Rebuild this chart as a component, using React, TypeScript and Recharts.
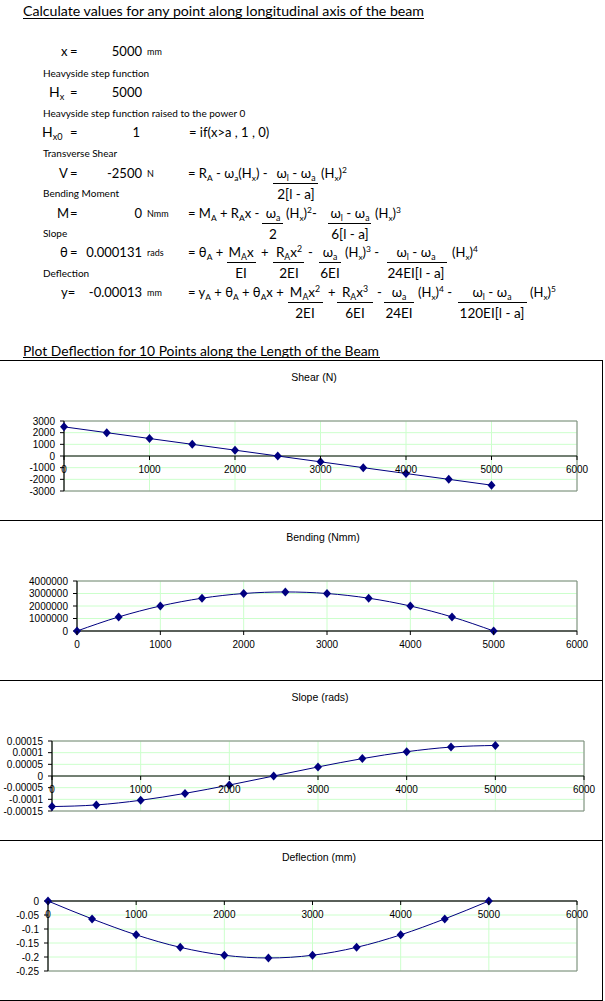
import React from "react"
import {
  LineChart,
  Line,
  XAxis,
  YAxis,
  CartesianGrid,
  ReferenceLine,
  ReferenceArea,
} from "recharts"

// positions along the beam (mm)
const positions = [0, 500, 1000, 1500, 2000, 2500, 3000, 3500, 4000, 4500, 5000]

// values
const shear = [2500, 2000, 1500, 1000, 500, 0, -500, -1000, -1500, -2000, -2500]
const bending = [0, 1125000, 2000000, 2625000, 3000000, 3125000, 3000000, 2625000, 2000000, 1125000, 0]
const slope = [-0.000131, -0.000124, -0.000104, -0.0000745, -0.0000388, 0, 0.0000388, 0.0000745, 0.000104, 0.000124, 0.000131]
const deflection = [0, -0.0639, -0.1209, -0.1655, -0.1938, -0.2035, -0.1938, -0.1655, -0.1209, -0.0639, 0]

// tick labels
const xTicks = [0, 1000, 2000, 3000, 4000, 5000, 6000]
const shearTicks = [-3000, -2000, -1000, 0, 1000, 2000, 3000]
const bendingTicks = [0, 1000000, 2000000, 3000000, 4000000]
const slopeTicks = [-0.00015, -0.0001, -0.00005, 0, 0.00005, 0.0001, 0.00015]
const deflectionTicks = [-0.25, -0.2, -0.15, -0.1, -0.05, 0]

const TEXT_FONT = "Lato, 'Open Sans', sans-serif"
const CHART_FONT = "'Liberation Sans', Arial, sans-serif"
const NAVY = "#000080"

type Part = string | [string, "sub" | "sup"]

// text with sub/superscripts, y is the vertical centre
function Rich({ x, y, parts, size = 13, anchor = "start" }: { x: number; y: number; parts: Part[]; size?: number; anchor?: string }) {
  let shift = 0
  return (
    <text x={x} y={y + size * 0.35} fontSize={size} textAnchor={anchor as any} style={{ whiteSpace: "pre" }} fill="#000">
      {parts.map((p, i) => {
        const [t, k] = typeof p === "string" ? [p, "n"] : p
        const target = k === "sub" ? 3 : k === "sup" ? -5 : 0
        const dy = target - shift
        shift = target
        return (
          <tspan key={i} dy={dy} fontSize={k === "n" ? size : size * 0.65}>
            {t}
          </tspan>
        )
      })}
    </text>
  )
}

function Frac({ cx, y, x1, x2, num, den }: { cx: number; y: number; x1: number; x2: number; num: Part[]; den: Part[] }) {
  return (
    <g>
      <Rich x={cx} y={y} parts={num} anchor="middle" size={13.5} />
      <line x1={x1} x2={x2} y1={y + 10.5} y2={y + 10.5} stroke="#000" strokeWidth={1} />
      <Rich x={cx} y={y + 21} parts={den} anchor="middle" size={13.5} />
    </g>
  )
}

function Label({ x, y, children, size = 10 }: { x: number; y: number; children: React.ReactNode; size?: number }) {
  return (
    <text x={x} y={y + size * 0.35} fontSize={size} fill="#000">
      {children}
    </text>
  )
}

const wl: Part[] = ["ω", ["l", "sub"], " - ω", ["a", "sub"]]
const wa: Part[] = ["ω", ["a", "sub"]]

function Worksheet() {
  return (
    <svg width={605} height={362} style={{ position: "absolute", left: 0, top: 0, fontFamily: TEXT_FONT }}>
      <text x={23} y={16} fontSize={14} textLength={401} lengthAdjust="spacingAndGlyphs">
        Calculate values for any point along longitudinal axis of the beam
      </text>
      <line x1={23} x2={424} y1={18.5} y2={18.5} stroke="#000" />

      <Rich x={61} y={51} parts={["x"]} />
      <Rich x={70} y={51} parts={["="]} />
      <Rich x={142} y={51} parts={["5000"]} anchor="end" />
      <Label x={147} y={52} size={9}>mm</Label>

      <Label x={43} y={73}>Heavyside step function</Label>
      <Rich x={49} y={92} parts={["H", ["x", "sub"]]} size={14} />
      <Rich x={70} y={92} parts={["="]} />
      <Rich x={142} y={92} parts={["5000"]} anchor="end" />

      <Label x={43} y={113}>Heavyside step function raised to the power 0</Label>
      <Rich x={42} y={132} parts={["H", ["x0", "sub"]]} size={14} />
      <Rich x={70} y={132} parts={["="]} />
      <Rich x={140} y={132} parts={["1"]} anchor="end" />
      <Rich x={189} y={132} parts={["= if(x>a , 1 , 0)"]} />

      <Label x={43} y={153}>Transverse Shear</Label>
      <Rich x={59} y={173} parts={["V"]} />
      <Rich x={70} y={173} parts={["="]} />
      <Rich x={142} y={173} parts={["-2500"]} anchor="end" />
      <Label x={147} y={174} size={9}>N</Label>
      <Rich x={188} y={173} parts={["= R", ["A", "sub"], " - ω", ["a", "sub"], "(H", ["x", "sub"], ") -"]} />
      <Frac cx={296} y={173} x1={273} x2={318} num={wl} den={["2[l - a]"]} />
      <Rich x={321} y={173} parts={["(H", ["x", "sub"], ")", ["2", "sup"]]} />

      <Label x={43} y={193}>Bending Moment</Label>
      <Rich x={57} y={213} parts={["M"]} />
      <Rich x={70} y={213} parts={["="]} />
      <Rich x={142} y={213} parts={["0"]} anchor="end" />
      <Label x={147} y={214} size={9}>Nmm</Label>
      <Rich x={188} y={213} parts={["= M", ["A", "sub"], " + R", ["A", "sub"], "x -"]} />
      <Frac cx={273} y={213} x1={262} x2={283} num={wa} den={["2"]} />
      <Rich x={286} y={213} parts={["(H", ["x", "sub"], ")", ["2", "sup"], "-"]} />
      <Frac cx={350} y={213} x1={328} x2={371} num={wl} den={["6[l - a]"]} />
      <Rich x={375} y={213} parts={["(H", ["x", "sub"], ")", ["3", "sup"]]} />

      <Label x={43} y={233}>Slope</Label>
      <Rich x={60} y={252} parts={["θ"]} />
      <Rich x={70} y={252} parts={["="]} />
      <Rich x={142} y={252} parts={["0.000131"]} anchor="end" />
      <Label x={147} y={253} size={9}>rads</Label>
      <Rich x={188} y={252} parts={["= θ", ["A", "sub"], " +"]} />
      <Frac cx={241} y={252} x1={227} x2={256} num={["M", ["A", "sub"], "x"]} den={["EI"]} />
      <Rich x={261} y={252} parts={["+"]} />
      <Frac cx={289} y={252} x1={273} x2={304} num={["R", ["A", "sub"], "x", ["2", "sup"]]} den={["2EI"]} />
      <Rich x={308} y={252} parts={["-"]} />
      <Frac cx={330} y={252} x1={319} x2={341} num={wa} den={["6EI"]} />
      <Rich x={345} y={252} parts={["(H", ["x", "sub"], ")", ["3", "sup"], " -"]} />
      <Frac cx={416} y={252} x1={387} x2={447} num={wl} den={["24EI[l - a]"]} />
      <Rich x={452} y={252} parts={["(H", ["x", "sub"], ")", ["4", "sup"]]} />

      <Label x={43} y={273}>Deflection</Label>
      <Rich x={61} y={292} parts={["y="]} />
      <Rich x={142} y={292} parts={["-0.00013"]} anchor="end" />
      <Label x={147} y={293} size={9}>mm</Label>
      <Rich x={188} y={292} parts={["= y", ["A", "sub"], " + θ", ["A", "sub"], " + θ", ["A", "sub"], "x +"]} />
      <Frac cx={305} y={292} x1={288} x2={323} num={["M", ["A", "sub"], "x", ["2", "sup"]]} den={["2EI"]} />
      <Rich x={328} y={292} parts={["+"]} />
      <Frac cx={355} y={292} x1={337} x2={373} num={["R", ["A", "sub"], "x", ["3", "sup"]]} den={["6EI"]} />
      <Rich x={377} y={292} parts={["-"]} />
      <Frac cx={399} y={292} x1={384} x2={414} num={wa} den={["24EI"]} />
      <Rich x={418} y={292} parts={["(H", ["x", "sub"], ")", ["4", "sup"], " -"]} />
      <Frac cx={492} y={292} x1={458} x2={527} num={wl} den={["120EI[l - a]"]} />
      <Rich x={530} y={292} parts={["(H", ["x", "sub"], ")", ["5", "sup"]]} />

      <text x={23} y={356} fontSize={14} textLength={356} lengthAdjust="spacingAndGlyphs">
        Plot Deflection for 10 Points along the Length of the Beam
      </text>
      <line x1={23} x2={380} y1={357.5} y2={357.5} stroke="#000" />
    </svg>
  )
}

function Diamond(props: any) {
  const { cx, cy, index } = props
  if (cx == null || cy == null) return <g key={index} />
  return <path key={index} d={`M${cx},${cy - 4.5} L${cx + 4},${cy} L${cx},${cy + 4.5} L${cx - 4},${cy} Z`} fill={NAVY} />
}

interface PanelProps {
  title: string
  titleX: number
  values: number[]
  ticks: number[]
  top: number
  plotLeft: number
  plotRight: number
  plotH: number
}

const W = 603
const H = 160
const PLOT_TOP = 61
const X_AXIS_H = 20

function Panel({ title, titleX, values, ticks, top, plotLeft, plotRight, plotH }: PanelProps) {
  const data = positions.map((x, i) => ({ x, v: values[i] }))
  const min = ticks[0]
  const max = ticks[ticks.length - 1]
  // x axis crosses at zero like the spreadsheet chart
  const zeroY = PLOT_TOP + (plotH * max) / (max - min)

  const renderXTick = (p: any) => {
    const { x, payload } = p
    return (
      <g>
        <line x1={x} x2={x} y1={zeroY} y2={zeroY + 4} stroke="#000" />
        <text x={x} y={zeroY + 16.5} textAnchor="middle" fontSize={10} fontFamily={CHART_FONT} fill="#000">
          {payload.value}
        </text>
      </g>
    )
  }

  return (
    <>
      <div
        style={{
          position: "absolute",
          left: 0,
          top,
          width: W,
          height: H + (top === 840 ? 1 : 0),
          boxSizing: "border-box",
          borderTop: "1px solid #000",
          borderRight: "1px solid #000",
          borderBottom: top === 840 ? "1px solid #000" : "none",
        }}
      />
      <div
        style={{
          position: "absolute",
          left: titleX - 60,
          width: 120,
          top: top + 10,
          textAlign: "center",
          fontFamily: CHART_FONT,
          fontSize: 10.5,
          lineHeight: "14px",
        }}
      >
        {title}
      </div>
      <div style={{ position: "absolute", left: 0, top }}>
        <LineChart
          width={W}
          height={H}
          data={data}
          margin={{ top: PLOT_TOP, left: 0, right: W - plotRight, bottom: H - PLOT_TOP - plotH - X_AXIS_H }}
        >
          <CartesianGrid stroke="#ccffcc" strokeWidth={1} />
          <ReferenceArea x1={0} x2={6000} y1={min} y2={max} fill="none" stroke="#808080" strokeWidth={1} />
          <XAxis
            dataKey="x"
            type="number"
            domain={[0, 6000]}
            ticks={xTicks}
            interval={0}
            axisLine={false}
            tickLine={false}
            tick={renderXTick}
            height={X_AXIS_H}
          />
          <YAxis
            type="number"
            domain={[min, max]}
            ticks={ticks}
            interval={0}
            width={plotLeft}
            axisLine={{ stroke: "#000" }}
            tickLine={{ stroke: "#000" }}
            tickSize={4}
            tickMargin={5}
            tick={{ fontSize: 10, fontFamily: CHART_FONT, fill: "#000" }}
          />
          <ReferenceLine y={0} stroke="#000" strokeWidth={1} />
          <Line
            type="monotone"
            dataKey="v"
            stroke={NAVY}
            strokeWidth={1}
            dot={Diamond}
            activeDot={false}
            isAnimationActive={false}
          />
        </LineChart>
      </div>
    </>
  )
}

const panels: PanelProps[] = [
  { title: "Shear (N)", titleX: 314, values: shear, ticks: shearTicks, top: 360, plotLeft: 64, plotRight: 577, plotH: 70 },
  { title: "Bending (Nmm)", titleX: 323, values: bending, ticks: bendingTicks, top: 520, plotLeft: 77, plotRight: 577, plotH: 50 },
  { title: "Slope (rads)", titleX: 320, values: slope, ticks: slopeTicks, top: 680, plotLeft: 52, plotRight: 584, plotH: 70 },
  { title: "Deflection (mm)", titleX: 319, values: deflection, ticks: deflectionTicks, top: 840, plotLeft: 48, plotRight: 577, plotH: 70 },
]

export default function App() {
  return (
    <div style={{ position: "absolute", left: 0, top: 0, width: 605, height: 1001, background: "#fff", overflow: "hidden" }}>
      <Worksheet />
      {panels.map((p) => (
        <Panel key={p.title} {...p} />
      ))}
    </div>
  )
}
